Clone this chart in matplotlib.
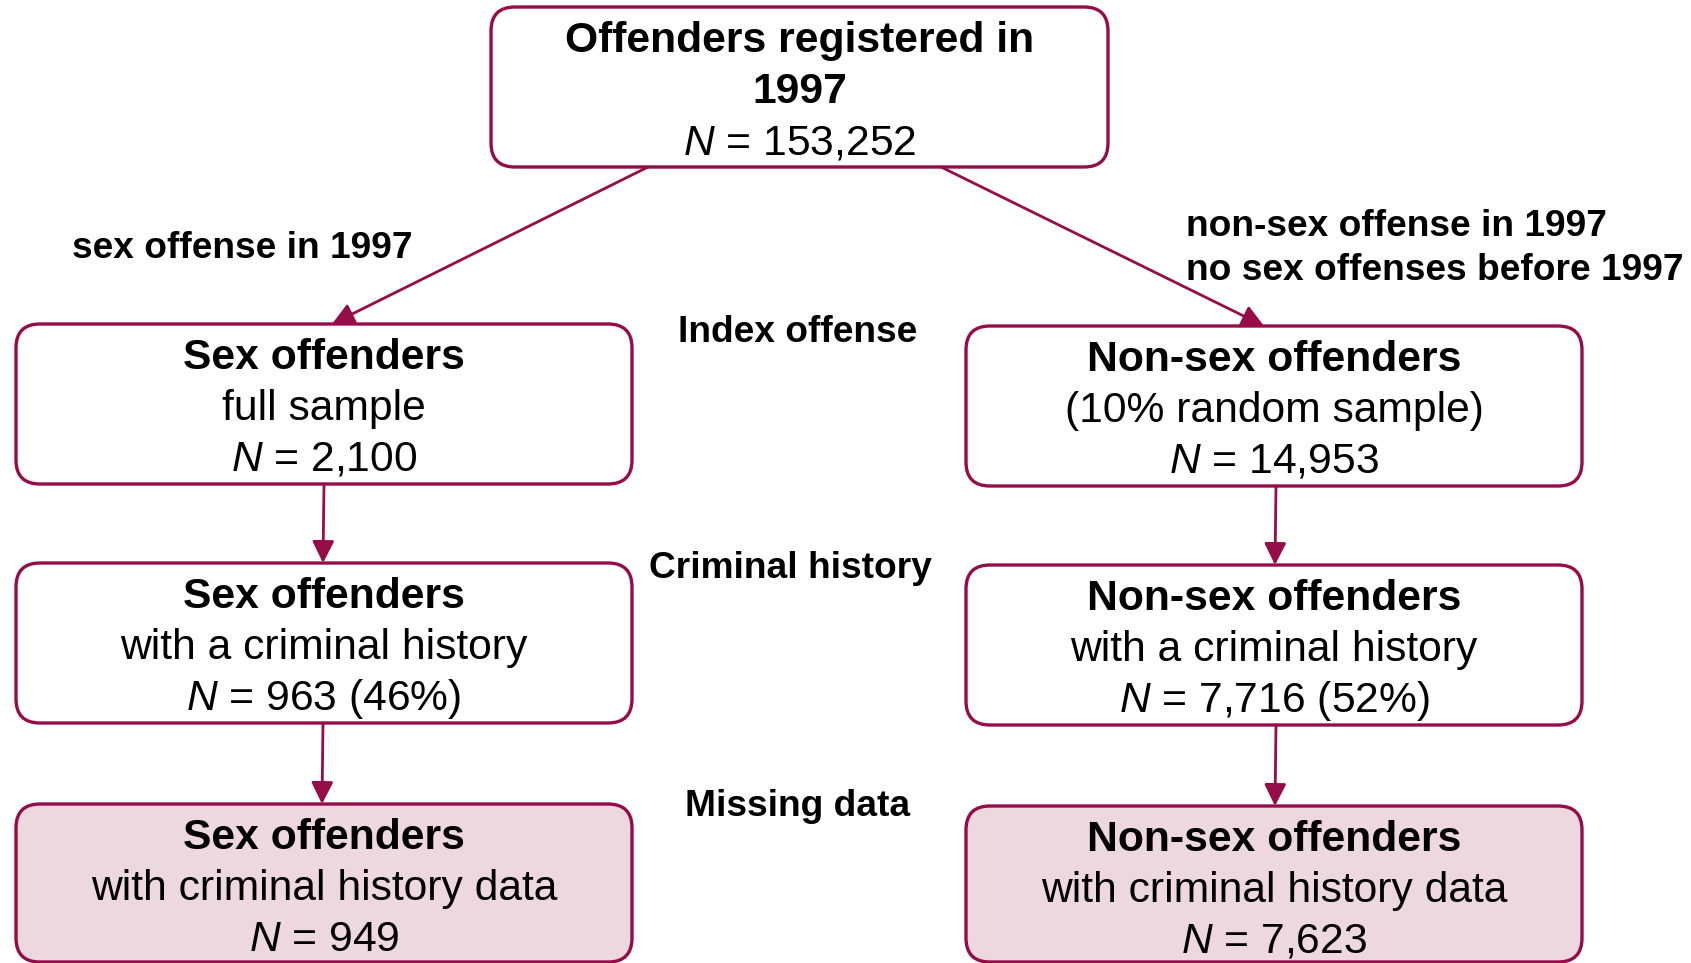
import matplotlib
matplotlib.use("Agg")
import matplotlib.pyplot as plt
from matplotlib.patches import FancyBboxPatch

plt.rcParams['font.family'] = ['Liberation Sans', 'DejaVu Sans']
plt.rcParams['mathtext.fontset'] = 'custom'
plt.rcParams['mathtext.it'] = 'Liberation Sans:italic'
plt.rcParams['mathtext.rm'] = 'Liberation Sans'

# ---- data ----
top_title = ["Offenders registered in", "1997"]
top_n = "153,252"
titles = ["Sex offenders", "Non-sex offenders"]
row_subtitles = [["full sample", "(10% random sample)"],
                 ["with a criminal history", "with a criminal history"],
                 ["with criminal history data", "with criminal history data"]]
row_n = [["2,100", "14,953"],
         ["963 (46%)", "7,716 (52%)"],
         ["949", "7,623"]]
stage_labels = ["Index offense", "Criminal history", "Missing data"]
branch_left = ["sex offense in 1997"]
branch_right = ["non-sex offense in 1997", "no sex offenses before 1997"]

EDGE = "#960C48"
FILL_LAST = "#EDD8E0"

W, H = 1691, 963
fig = plt.figure(figsize=(W / 100, H / 100), dpi=100)
ax = fig.add_axes([0, 0, 1, 1])
ax.set_xlim(0, W)
ax.set_ylim(H, 0)
ax.axis('off')

FS = 30.7
LFS = 26.7
DY = 3


def box(x0, y0, x1, y1, fill="white"):
    p = FancyBboxPatch((x0, y0), x1 - x0, y1 - y0,
                       boxstyle="round,pad=0,rounding_size=24",
                       fc=fill, ec=EDGE, lw=2.4, zorder=2)
    ax.add_patch(p)


def arrow(x0, y0, x1, y1):
    ax.annotate("", xy=(x1, y1), xytext=(x0, y0),
                arrowprops=dict(arrowstyle="-|>,head_length=0.7,head_width=0.35",
                                color=EDGE, lw=2.0, shrinkA=0, shrinkB=0,
                                mutation_scale=19),
                zorder=3)


# top box
box(491, 7, 1108, 167)
cx = (491 + 1108) / 2
ax.text(cx, 38 + DY, top_title[0], ha='center', va='center', fontsize=FS, fontweight='bold', zorder=4)
ax.text(cx, 89 + DY, top_title[1], ha='center', va='center', fontsize=FS, fontweight='bold', zorder=4)
ax.text(cx, 140 + DY, "$N$ = " + top_n, ha='center', va='center', fontsize=FS, zorder=4)

# row boxes
left_x = (16, 632)
right_x = (966, 1582)
rows_y = [(324, 484, 326, 486), (563, 723, 565, 725), (804, 962, 806, 962)]
for r, (ly0, ly1, ry0, ry1) in enumerate(rows_y):
    fill = FILL_LAST if r == 2 else "white"
    for c, (xs, y0, y1) in enumerate([(left_x, ly0, ly1), (right_x, ry0, ry1)]):
        box(xs[0], y0, xs[1], y1, fill)
        bx = (xs[0] + xs[1]) / 2
        ax.text(bx, y0 + 31 + DY, titles[c], ha='center', va='center', fontsize=FS,
                fontweight='bold', zorder=4)
        ax.text(bx, y0 + 82 + DY, row_subtitles[r][c], ha='center', va='center',
                fontsize=FS, zorder=4)
        ax.text(bx, y0 + 133 + DY, "$N$ = " + row_n[r][c], ha='center', va='center',
                fontsize=FS, zorder=4)

# arrows
arrow(648, 167, 332, 324)
arrow(941, 167, 1264, 326)
arrow(324, 484, 323, 563)
arrow(323, 723, 322, 804)
arrow(1276, 486, 1275, 565)
arrow(1276, 725, 1275, 806)

# stage labels
ax.text(798, 329 + DY, stage_labels[0], ha='center', va='center', fontsize=LFS, fontweight='bold')
ax.text(790, 565 + DY, stage_labels[1], ha='center', va='center', fontsize=LFS, fontweight='bold')
ax.text(798, 804 + DY, stage_labels[2], ha='center', va='center', fontsize=LFS, fontweight='bold')

# branch labels
ax.text(72, 246 + DY, branch_left[0], ha='left', va='center', fontsize=LFS, fontweight='bold')
ax.text(1186, 223 + DY, branch_right[0], ha='left', va='center', fontsize=LFS, fontweight='bold')
ax.text(1186, 267 + DY, branch_right[1], ha='left', va='center', fontsize=LFS, fontweight='bold')

fig.savefig("out.png", dpi=100)
